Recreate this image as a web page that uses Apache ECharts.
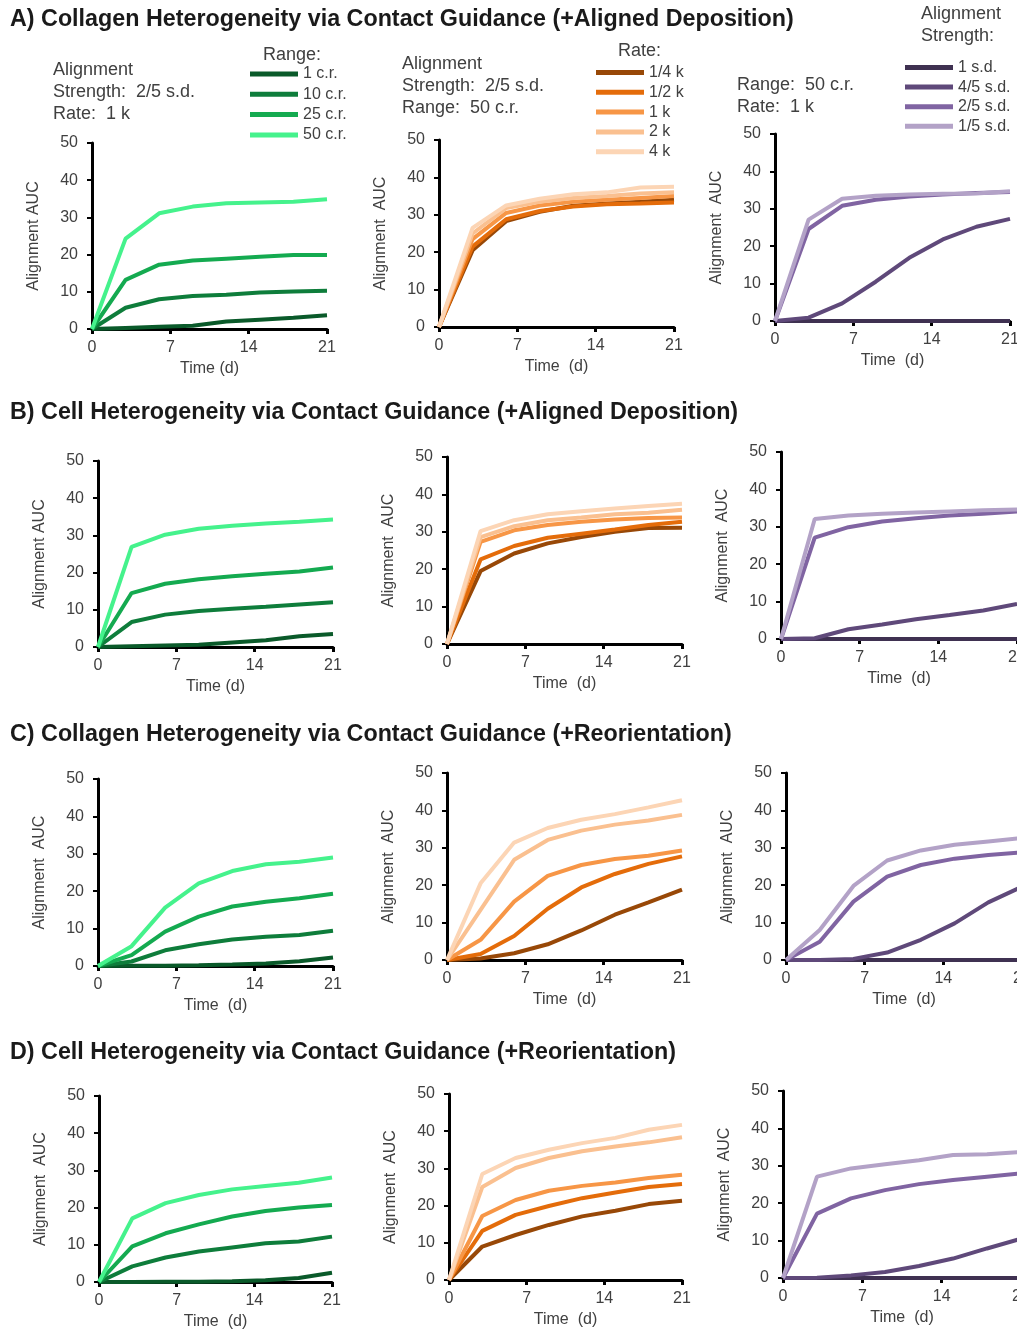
<!DOCTYPE html>
<html><head><meta charset="utf-8">
<script src="https://cdn.jsdelivr.net/npm/echarts@6/dist/echarts.min.js"></script>
<style>html,body{margin:0;padding:0;background:#fff}#c{width:1017px;height:1331px}</style>
</head><body><div id="c"></div>
<script>
// ---------- DATA ----------
const days = [0, 3, 6, 9, 12, 15, 18, 21];
const rangeNames = ['1 c.r.', '10 c.r.', '25 c.r.', '50 c.r.'];
const rateNames = ['1/4 k', '1/2 k', '1 k', '2 k', '4 k'];
const strengthNames = ['1 s.d.', '4/5 s.d.', '2/5 s.d.', '1/5 s.d.'];

// Row A: Collagen heterogeneity (+Aligned Deposition)
const A_range = [
  [0, 0.3, 0.6, 0.9, 2.0, 2.5, 3.0, 3.7],
  [0, 5.7, 8.0, 8.9, 9.2, 9.8, 10.1, 10.3],
  [0, 13.2, 17.3, 18.4, 18.9, 19.4, 19.9, 19.9],
  [0, 24.3, 31.1, 32.9, 33.8, 34.0, 34.2, 34.9]
];
const A_rate = [
  [0, 20.5, 28.3, 30.8, 32.4, 33.0, 33.5, 34.0],
  [0, 21.5, 28.8, 31.0, 32.2, 32.8, 33.0, 33.3],
  [0, 23.5, 30.5, 32.5, 33.5, 34.0, 34.5, 35.0],
  [0, 25.0, 31.8, 33.5, 34.5, 35.0, 35.7, 36.0],
  [0, 26.5, 32.5, 34.3, 35.5, 36.0, 37.3, 37.5]
];
const A_strength = [
  [0, 0, 0, 0, 0, 0, 0, 0],
  [0, 0.9, 4.7, 10.5, 16.9, 21.8, 25.2, 27.3],
  [0, 24.6, 30.8, 32.4, 33.3, 33.8, 34.2, 34.5],
  [0, 27.1, 32.7, 33.5, 33.8, 34.0, 34.1, 34.7]
];
// Row B: Cell heterogeneity (+Aligned Deposition)
const B_range = [
  [0, 0.2, 0.4, 0.6, 1.2, 1.8, 2.9, 3.5],
  [0, 6.7, 8.7, 9.7, 10.3, 10.8, 11.4, 12.0],
  [0, 14.5, 17.0, 18.2, 19.0, 19.7, 20.3, 21.4],
  [0, 26.9, 30.2, 31.8, 32.6, 33.2, 33.7, 34.3]
];
const B_rate = [
  [0, 19.5, 24.2, 26.9, 28.6, 30.0, 31.0, 31.1],
  [0, 22.6, 26.2, 28.4, 29.5, 30.6, 31.8, 32.7],
  [0, 27.3, 30.4, 31.8, 32.7, 33.3, 33.7, 33.8],
  [0, 28.6, 31.5, 33.1, 33.8, 34.7, 35.1, 35.9],
  [0, 30.2, 33.1, 34.7, 35.5, 36.2, 36.9, 37.5]
];
const B_strength = [
  [0, 0, 0, 0, 0, 0, 0, 0],
  [0, 0.2, 2.6, 3.9, 5.3, 6.4, 7.6, 9.4],
  [0, 27.1, 29.9, 31.4, 32.3, 33.0, 33.5, 34.1],
  [0, 32.1, 33.0, 33.5, 33.8, 34.1, 34.4, 34.6]
];
// Row C: Collagen heterogeneity (+Reorientation)
const C_range = [
  [0, 0.1, 0.1, 0.2, 0.4, 0.7, 1.3, 2.3],
  [0, 1.2, 4.2, 5.8, 7.1, 7.8, 8.3, 9.4],
  [0, 2.9, 9.2, 13.2, 15.9, 17.2, 18.1, 19.3],
  [0, 5.3, 15.6, 22.1, 25.4, 27.2, 27.9, 29.0]
];
const C_rate = [
  [0, 0.4, 1.8, 4.2, 7.9, 12.1, 15.4, 18.8],
  [0, 1.6, 6.4, 13.7, 19.4, 23.0, 25.7, 27.7],
  [0, 5.4, 15.6, 22.5, 25.4, 27.0, 27.9, 29.3],
  [0, 13.4, 26.8, 32.1, 34.6, 36.2, 37.3, 38.8],
  [0, 20.5, 31.4, 35.3, 37.5, 39.0, 40.8, 42.7]
];
const C_strength = [
  [0, 0, 0, 0, 0, 0, 0, 0],
  [0, 0, 0.3, 2.0, 5.4, 9.8, 15.4, 19.6],
  [0, 4.9, 15.6, 22.3, 25.4, 27.1, 28.1, 28.8],
  [0, 8.0, 19.8, 26.6, 29.3, 30.8, 31.7, 32.6]
];
// Row D: Cell heterogeneity (+Reorientation)
const D_range = [
  [0, 0, 0.1, 0.1, 0.2, 0.5, 1.1, 2.5],
  [0, 4.2, 6.6, 8.2, 9.3, 10.4, 10.9, 12.2],
  [0, 9.6, 13.1, 15.5, 17.6, 19.1, 20.0, 20.7],
  [0, 17.1, 21.2, 23.4, 24.9, 25.8, 26.7, 28.1]
];
const D_rate = [
  [0, 9.0, 12.1, 14.8, 17.1, 18.6, 20.4, 21.3],
  [0, 13.2, 17.5, 19.9, 22.0, 23.5, 25.0, 25.8],
  [0, 17.2, 21.5, 24.0, 25.3, 26.2, 27.4, 28.3],
  [0, 25.0, 30.1, 32.8, 34.6, 35.9, 37.0, 38.4],
  [0, 28.5, 32.8, 35.0, 36.8, 38.2, 40.4, 41.7]
];
const D_strength = [
  [0, 0, 0, 0, 0, 0, 0, 0],
  [0, 0.1, 0.7, 1.6, 3.2, 5.2, 7.9, 10.5],
  [0, 17.2, 21.3, 23.5, 25.1, 26.2, 27.1, 28.0],
  [0, 27.1, 29.3, 30.4, 31.5, 32.9, 33.1, 33.7]
];
const sectionTitles = [
  'A) Collagen Heterogeneity via Contact Guidance (+Aligned Deposition)',
  'B) Cell Heterogeneity via Contact Guidance (+Aligned Deposition)',
  'C) Collagen Heterogeneity via Contact Guidance (+Reorientation)',
  'D) Cell Heterogeneity via Contact Guidance (+Reorientation)'
];

// ---------- STYLE / LAYOUT ----------
const greens = ['#0a5a2a', '#0e7d3b', '#14aa50', '#45f28c'];
const oranges = ['#984807', '#e46c0a', '#f79646', '#fac090', '#fcd5b5'];
const purples = ['#3f3151', '#5f497a', '#8064a2', '#b3a2c7'];
const FONT = 'Liberation Sans';
const TXT = '#404040';

const panels = [
  {g: [92, 143, 235, 186], names: rangeNames, colors: greens, data: A_range, yn: 'Alignment AUC', xn: 'Time (d)'},
  {g: [439, 140, 235, 187], names: rateNames, colors: oranges, data: A_rate, yn: 'Alignment  AUC', xn: 'Time  (d)'},
  {g: [775, 134, 235, 187], names: strengthNames, colors: purples, data: A_strength, yn: 'Alignment  AUC', xn: 'Time  (d)'},
  {g: [98, 461, 235, 186], names: rangeNames, colors: greens, data: B_range, yn: 'Alignment AUC', xn: 'Time (d)'},
  {g: [447, 457, 235, 187], names: rateNames, colors: oranges, data: B_rate, yn: 'Alignment  AUC', xn: 'Time  (d)'},
  {g: [781, 452, 236, 187], names: strengthNames, colors: purples, data: B_strength, yn: 'Alignment  AUC', xn: 'Time  (d)'},
  {g: [98, 779, 235, 187], names: rangeNames, colors: greens, data: C_range, yn: 'Alignment  AUC', xn: 'Time  (d)'},
  {g: [447, 773, 235, 187], names: rateNames, colors: oranges, data: C_rate, yn: 'Alignment  AUC', xn: 'Time  (d)'},
  {g: [786, 773, 236, 187], names: strengthNames, colors: purples, data: C_strength, yn: 'Alignment  AUC', xn: 'Time  (d)'},
  {g: [99, 1096, 233, 186], names: rangeNames, colors: greens, data: D_range, yn: 'Alignment  AUC', xn: 'Time  (d)'},
  {g: [449, 1094, 233, 186], names: rateNames, colors: oranges, data: D_rate, yn: 'Alignment  AUC', xn: 'Time  (d)'},
  {g: [783, 1091, 238, 187], names: strengthNames, colors: purples, data: D_strength, yn: 'Alignment  AUC', xn: 'Time  (d)'}
];
const titleTops = [18, 411, 733, 1051];

const grid = [], xAxis = [], yAxis = [], series = [];
panels.forEach((p, i) => {
  grid.push({left: p.g[0], top: p.g[1], width: p.g[2], height: p.g[3], containLabel: false, outerBoundsMode: 'none'});
  xAxis.push({
    type: 'value', gridIndex: i, min: 0, max: 21, interval: 7,
    name: p.xn, nameLocation: 'middle', nameGap: 32,
    nameTextStyle: {fontFamily: FONT, fontSize: 16, color: TXT},
    axisLine: {lineStyle: {color: '#000', width: 3}},
    axisTick: {show: true, length: 5, inside: false, lineStyle: {color: '#000', width: 3}},
    axisLabel: {fontFamily: FONT, fontSize: 16, color: TXT, margin: 11},
    splitLine: {show: false}
  });
  yAxis.push({
    type: 'value', gridIndex: i, min: 0, max: 50, interval: 10,
    name: p.yn, nameLocation: 'middle', nameGap: 50, nameRotate: 90,
    nameTextStyle: {fontFamily: FONT, fontSize: 16, color: TXT},
    axisLine: {show: true, lineStyle: {color: '#000', width: 3}},
    axisTick: {show: true, length: 5, lineStyle: {color: '#000', width: 2}},
    axisLabel: {fontFamily: FONT, fontSize: 16, color: TXT, margin: 14},
    splitLine: {show: false}
  });
  p.names.forEach((n, k) => {
    series.push({
      type: 'line', name: n, xAxisIndex: i, yAxisIndex: i,
      data: days.map((d, j) => [d, p.data[k][j]]),
      symbol: 'none', smooth: false, clip: false,
      color: p.colors[k],
      lineStyle: {color: p.colors[k], width: 4},
      itemStyle: {color: p.colors[k]},
      z: 3
    });
  });
});

const title = sectionTitles.map((t, i) => ({
  text: t, left: 10, top: titleTops[i] - 10, padding: 0,
  textStyle: {fontFamily: FONT, fontSize: 23.3, fontWeight: 'bold', color: '#1a1a1a'}
}));

const legBase = {
  orient: 'vertical', icon: 'rect', itemWidth: 48, itemHeight: 5, padding: 0,
  selectedMode: false,
  textStyle: {fontFamily: FONT, fontSize: 16, color: TXT}
};
const legend = [
  Object.assign({}, legBase, {data: rangeNames, left: 250, top: 66, itemGap: 4.3}),
  Object.assign({}, legBase, {data: rateNames, left: 596, top: 64.5, itemGap: 3.8}),
  Object.assign({}, legBase, {data: strengthNames, left: 905, top: 59.5, itemGap: 3.6})
];

function txt(x, y, s) {
  return {type: 'text', x: x, y: y, style: {text: s, fontFamily: FONT, fontSize: 18, fill: TXT, align: 'left', verticalAlign: 'middle'}};
}
const graphic = [
  txt(53, 70, 'Alignment'), txt(53, 92, 'Strength:  2/5 s.d.'), txt(53, 114, 'Rate:  1 k'),
  txt(263, 55, 'Range:'),
  txt(402, 64, 'Alignment'), txt(402, 86, 'Strength:  2/5 s.d.'), txt(402, 108, 'Range:  50 c.r.'),
  txt(618, 51, 'Rate:'),
  txt(737, 85, 'Range:  50 c.r.'), txt(737, 107, 'Rate:  1 k'),
  txt(921, 14, 'Alignment'), txt(921, 36, 'Strength:')
];

const chart = echarts.init(document.getElementById('c'), null, {renderer: 'canvas'});
chart.setOption({
  animation: false, backgroundColor: '#fff',
  title, legend, grid, xAxis, yAxis, series, graphic
});
</script></body></html>
